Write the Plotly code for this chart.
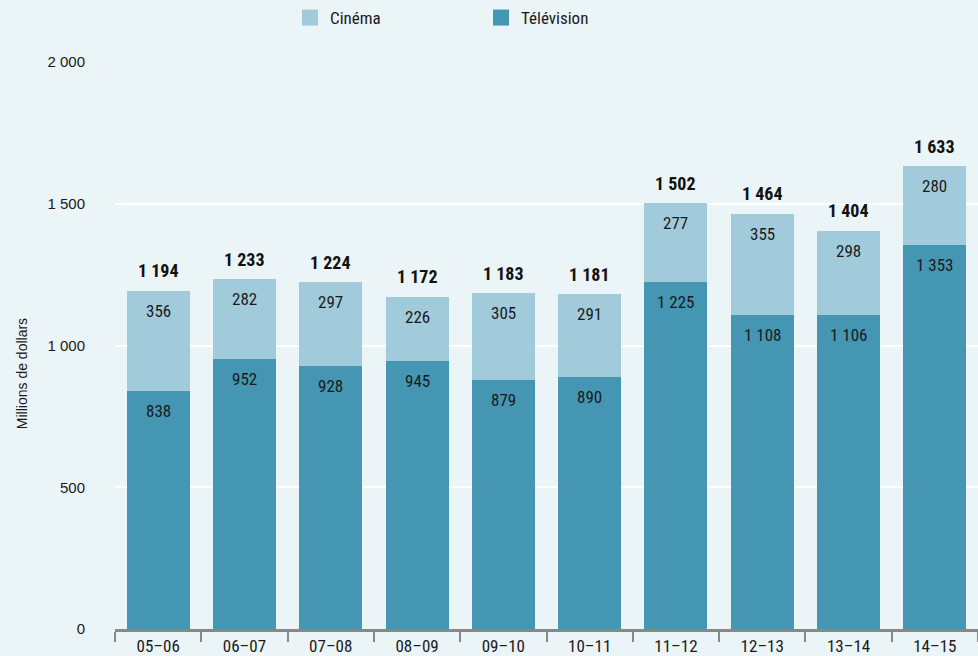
import plotly.graph_objects as go

# Annual totals by sector, millions of dollars
seasons = ["05-06", "06-07", "07-08", "08-09", "09-10", "10-11", "11-12", "12-13", "13-14", "14-15"]
television = [838, 952, 928, 945, 879, 890, 1225, 1108, 1106, 1353]
cinema = [356, 282, 297, 226, 305, 291, 277, 355, 298, 280]
totals = [1194, 1233, 1224, 1172, 1183, 1181, 1502, 1464, 1404, 1633]

tick_labels = [s.replace("-", "\u2013") for s in seasons]

BG = "#ebf4f7"
C_CINEMA = "#a1cbdb"
C_TV = "#4496b3"
NARROW = "Liberation Sans Narrow, Arial Narrow, Roboto Condensed, sans-serif"
REGULAR = "Liberation Sans, Arial, sans-serif"


def fmt(v):
    return f"{v:,}".replace(",", " ")


fig = go.Figure()
fig.add_trace(go.Bar(x=tick_labels, y=television, name="Télévision", showlegend=False,
                     legendgroup="tv", marker=dict(color=C_TV, line=dict(width=0))))
fig.add_trace(go.Bar(x=tick_labels, y=cinema, name="Cinéma", showlegend=False,
                     legendgroup="cin", marker=dict(color=C_CINEMA, line=dict(width=0))))

# Legend keys with larger square swatches
fig.add_trace(go.Scatter(x=[None], y=[None], mode="markers", name="Télévision", legendgroup="tv",
                         marker=dict(symbol="square", size=16, color=C_TV)))
fig.add_trace(go.Scatter(x=[None], y=[None], mode="markers", name="Cinéma", legendgroup="cin",
                         marker=dict(symbol="square", size=16, color=C_CINEMA)))

annotations = []
for cat, tv, ci, tot in zip(tick_labels, television, cinema, totals):
    annotations.append(dict(x=cat, y=tv + ci, text=fmt(ci), showarrow=False,
                            yshift=-20, font=dict(family=NARROW, size=17, color="#1a1a1a")))
    annotations.append(dict(x=cat, y=tv, text=fmt(tv), showarrow=False,
                            yshift=-20, font=dict(family=NARROW, size=17, color="#1a1a1a")))
    annotations.append(dict(x=cat, y=tot, text=f"<b>{fmt(tot)}</b>", showarrow=False,
                            yshift=20, font=dict(family=NARROW, size=18, color="#111111")))

annotations.append(dict(x=-0.119, y=0.45, xref="paper", yref="paper", text="Millions de dollars",
                        textangle=-90, showarrow=False,
                        font=dict(family=REGULAR, size=14, color="#1a1a1a")))

fig.update_layout(
    width=978, height=656,
    margin=dict(l=115, r=0, t=62, b=25),
    paper_bgcolor=BG, plot_bgcolor=BG,
    barmode="stack", bargap=0.27,
    separators=", ",
    showlegend=True,
    legend=dict(orientation="h", traceorder="reversed", x=0.2028, y=1.0, yref="container",
                yanchor="top", xanchor="left", itemsizing="trace",
                entrywidth=146, entrywidthmode="pixels",
                font=dict(family=NARROW, size=17, color="#1a1a1a"), bgcolor="rgba(0,0,0,0)"),
    xaxis=dict(type="category", showgrid=False, ticks="outside", tickson="boundaries",
               ticklen=10, tickwidth=2, tickcolor="#888888",
               showline=True, linecolor="#888888", linewidth=3,
               tickfont=dict(family=NARROW, size=17, color="#1a1a1a")),
    yaxis=dict(range=[0, 2000], tickvals=[0, 500, 1000, 1500, 2000],
               ticktext=["0", "500", "1 000", "1 500", "2 000"],
               showgrid=True, gridcolor="#ffffff", gridwidth=2, zeroline=False,
               ticks="outside", ticklen=26, tickcolor="rgba(0,0,0,0)",
               tickfont=dict(family=REGULAR, size=15, color="#1a1a1a")),
    annotations=annotations,
)

fig.write_html("out.html")
